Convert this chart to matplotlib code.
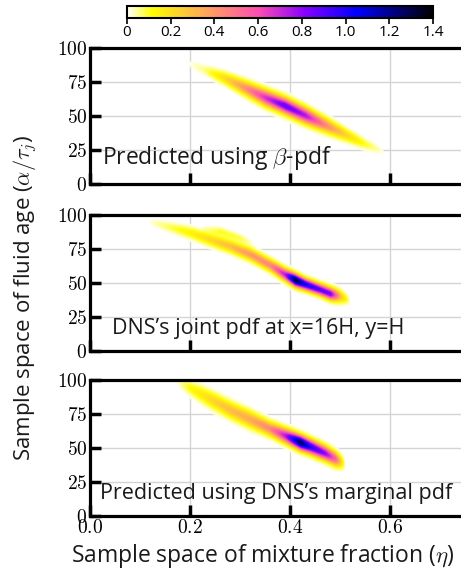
import numpy as np
import matplotlib
matplotlib.use("Agg")
import matplotlib.pyplot as plt

plt.rcParams['mathtext.fontset'] = 'cm'
plt.rcParams['font.family'] = ['Open Sans', 'DejaVu Sans']

# colour scale
cbar_ticks = [0, 0.2, 0.4, 0.6, 0.8, 1.0, 1.2, 1.4]
cbar_labels = ['0', '0.2', '0.4', '0.6', '0.8', '1.0', '1.2', '1.4']

# axis ticks
eta_ticks = [0.0, 0.2, 0.4, 0.6]
age_ticks = [0, 25, 50, 75, 100]

# panel 1: predicted using beta-pdf (ridge of the joint pdf)
beta_eta = [0.19, 0.23, 0.27, 0.31, 0.35, 0.39, 0.43, 0.47, 0.51, 0.55, 0.59]
beta_age = [89, 83, 77, 70, 63, 57, 50, 43, 36, 29, 23]
beta_pdf = [0.0, 0.06, 0.22, 0.42, 0.68, 0.88, 0.75, 0.45, 0.24, 0.10, 0.0]
beta_width = [2, 2.5, 3, 3.5, 3.8, 3.8, 3.8, 3.5, 3, 2.5, 2]

# panel 2: DNS joint pdf at x=16H, y=H
dns_eta = [0.12, 0.16, 0.20, 0.24, 0.28, 0.32, 0.36, 0.39, 0.41, 0.43, 0.46, 0.48, 0.50, 0.52]
dns_age = [95, 91, 87, 82, 77, 71, 63, 56, 52, 49, 45, 42, 40, 37]
dns_pdf = [0.02, 0.08, 0.15, 0.22, 0.30, 0.40, 0.45, 0.75, 1.35, 1.05, 0.90, 0.85, 0.30, 0.0]
dns_width = [2, 2.5, 2.8, 3, 3, 3, 3, 3, 3, 2.8, 2.8, 3, 3, 2]
# faint upper branch in the DNS pdf
dns2_eta = [0.22, 0.26, 0.30, 0.33]
dns2_age = [90, 88, 83, 78]
dns2_pdf = [0.0, 0.10, 0.08, 0.0]
dns2_width = [2, 2, 2, 2]

# panel 3: predicted using DNS's marginal pdf
marg_eta = [0.17, 0.20, 0.24, 0.28, 0.32, 0.36, 0.39, 0.42, 0.44, 0.47, 0.49, 0.51]
marg_age = [100, 94, 86, 78, 71, 64, 59, 54, 51, 46, 42, 38]
marg_pdf = [0.0, 0.12, 0.22, 0.30, 0.35, 0.45, 0.75, 1.30, 1.00, 0.80, 0.55, 0.0]
marg_width = [2.5, 3.5, 4, 4, 4, 3.5, 3.5, 3.5, 3.5, 3.5, 3.5, 3]


def ridge_field(eta, age, pdf, width):
    x = np.linspace(0, 0.8, 801)
    y = np.linspace(0, 100, 401)
    X, Y = np.meshgrid(x, y)
    c = np.interp(X, eta, age)
    s = np.interp(X, eta, width)
    p = np.interp(X, eta, pdf, left=0, right=0)
    return p * np.exp(-0.5 * ((Y - c) / s) ** 2)


fields = [
    ridge_field(beta_eta, beta_age, beta_pdf, beta_width),
    ridge_field(dns_eta, dns_age, dns_pdf, dns_width) + ridge_field(dns2_eta, dns2_age, dns2_pdf, dns2_width),
    ridge_field(marg_eta, marg_age, marg_pdf, marg_width),
]
notes = [r'Predicted using $\beta$-pdf',
         'DNS\u2019s joint pdf at x=16H, y=H',
         'Predicted using DNS\u2019s marginal pdf']
note_x = [0.03, 0.055, 0.025]
note_size = [16.5, 15.5, 15.5]

cmap = plt.get_cmap('gnuplot2_r').copy()
cmap.set_bad((1, 1, 1, 0))

W, H = 461, 575
fig = plt.figure(figsize=(W / 100, H / 100), dpi=100)

tops = [48, 215, 380]
ax_h = 136
for i in range(3):
    ax = fig.add_axes([90 / W, 1 - (tops[i] + ax_h) / H, 400 / W, ax_h / H])
    f = np.ma.masked_less(fields[i], 0.01)
    im = ax.imshow(f, origin='lower', extent=[0, 0.8, 0, 100], aspect='auto',
                   cmap=cmap, vmin=0, vmax=1.4, interpolation='bilinear', zorder=2)
    ax.set_xlim(0, 0.8)
    ax.set_ylim(0, 100)
    ax.set_xticks(eta_ticks)
    ax.set_yticks(age_ticks)
    ax.set_yticklabels(['$%d$' % v for v in age_ticks], fontsize=14)
    if i == 2:
        ax.set_xticklabels(['$%.1f$' % v for v in eta_ticks], fontsize=14)
    else:
        ax.set_xticklabels([])
    ax.grid(True, color='#d4d4d4', lw=1.0, zorder=0)
    ax.set_axisbelow(True)
    ax.tick_params(direction='in', length=8, width=2.5, color='black', pad=2)
    for sp in ax.spines.values():
        sp.set_linewidth(2.3)
    ax.text(note_x[i], 0.09, notes[i], transform=ax.transAxes, fontsize=note_size[i],
            color='#1a1a1a', va='bottom', ha='left', zorder=5)

fig.text(25 / W, 1 - 298 / H, r'Sample space of fluid age ($\alpha/\tau_j$)',
         rotation=90, fontsize=16, ha='center', va='center', color='#1a1a1a')
fig.text(263 / W, 1 - 556 / H, r'Sample space of mixture fraction ($\eta$)',
         fontsize=16.5, ha='center', va='center', color='#1a1a1a')

cax = fig.add_axes([127 / W, 1 - 18 / H, 306 / W, 12 / H])
cb = fig.colorbar(im, cax=cax, orientation='horizontal', ticks=cbar_ticks)
cb.ax.set_xticklabels(cbar_labels, fontsize=11)
cb.ax.tick_params(direction='out', length=4, width=1.2, pad=1)
cb.outline.set_linewidth(1.5)

fig.savefig('out.png', dpi=100)
